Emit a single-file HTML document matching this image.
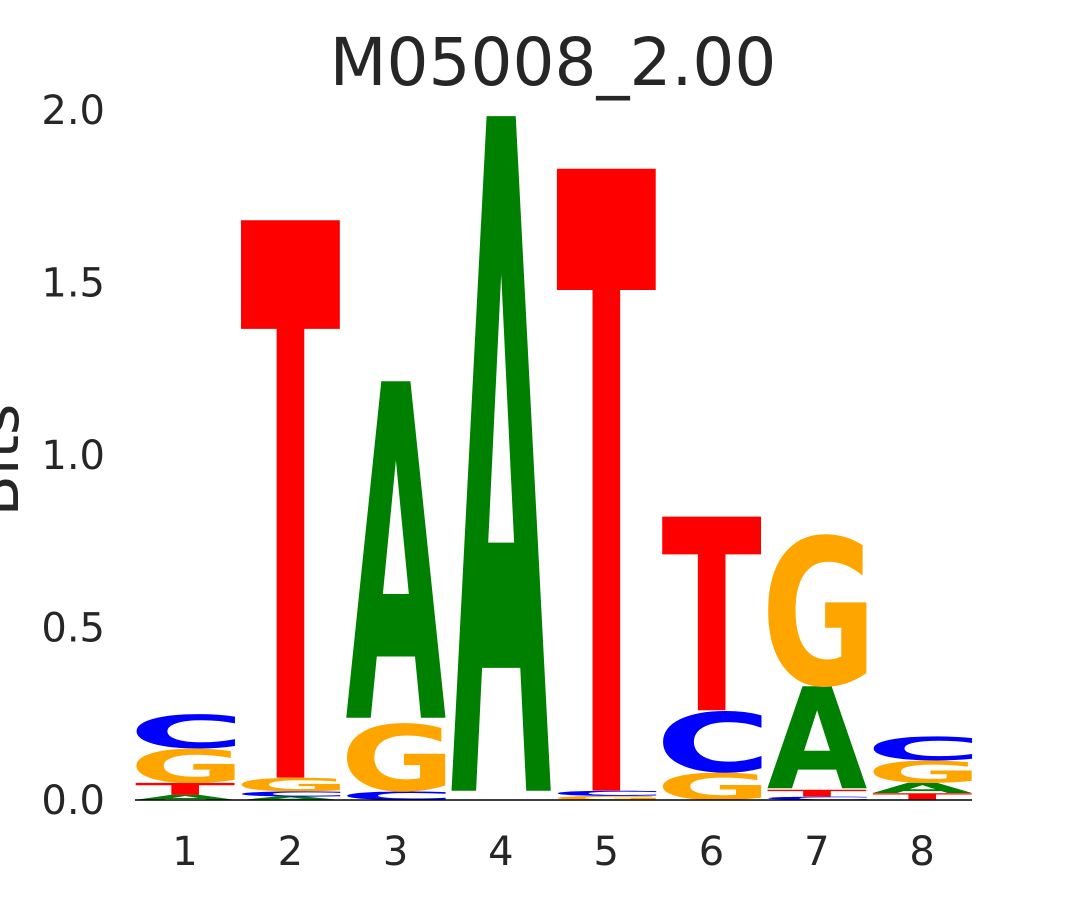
<!DOCTYPE html>
<html><head><meta charset="utf-8"><style>
html,body{margin:0;background:#fff;overflow:hidden;width:1080px;height:900px;}
svg{display:block;font-family:"DejaVu Sans","Liberation Sans",sans-serif;overflow:hidden;}
</style></head><body>
<svg id="chart" width="1080" height="900">
<text x="553" y="85" font-size="66" text-anchor="middle" fill="#262626">M05008_2.00</text>
<text transform="translate(18,460) rotate(-90)" font-size="60" text-anchor="middle" fill="#262626">Bits</text>
<g id="yticks"></g><g id="xticks"></g><g id="letters"></g>
<line x1="135" y1="800" x2="972" y2="800" stroke="#000" stroke-width="1.5"/>
</svg>
<script>
const positions = ["1","2","3","4","5","6","7","8"];
const yTickValues = [0, 0.5, 1.0, 1.5, 2.0];
const yTickLabels = ["0.0","0.5","1.0","1.5","2.0"];
// stacks bottom-to-top: [letter, bits]
const col1 = [["A",0.015],["T",0.035],["G",0.1],["C",0.1]];
const col2 = [["A",0.01],["C",0.015],["G",0.04],["T",1.64]];
const col3 = [["C",0.025],["G",0.2],["A",0.99]];
const col4 = [["A",1.985]];
const col5 = [["G",0.012],["C",0.015],["T",1.83]];
const col6 = [["G",0.08],["C",0.18],["T",0.57]];
const col7 = [["C",0.01],["T",0.02],["A",0.3],["G",0.445]];
const col8 = [["T",0.02],["A",0.03],["G",0.065],["C",0.07]];
const stacks = [col1,col2,col3,col4,col5,col6,col7,col8];
const colors = {A:"#008000",C:"#0000ff",G:"#ffa500",T:"#ff0000"};
const NS="http://www.w3.org/2000/svg";
const y = v => 800 - v*345;
const xc = i => 185 + i*105.3;
const colW = 100;
const FONT = 'bold 100px "DejaVu Sans"';
const ctx = document.createElement('canvas').getContext('2d');
ctx.font = FONT;
function ink(L){
  const m = ctx.measureText(L);
  return {l:-m.actualBoundingBoxLeft, r:m.actualBoundingBoxRight, a:m.actualBoundingBoxAscent, d:m.actualBoundingBoxDescent};
}
const yt=document.getElementById('yticks');
yTickValues.forEach((v,i)=>{
  const t=document.createElementNS(NS,'text');
  t.setAttribute('x',105);t.setAttribute('y',y(v)+14);
  t.setAttribute('font-size',40);t.setAttribute('text-anchor','end');t.setAttribute('fill','#262626');
  t.textContent=yTickLabels[i];
  
  
  yt.appendChild(t);
});
const xt=document.getElementById('xticks');
positions.forEach((p,i)=>{
  const t=document.createElementNS(NS,'text');
  t.setAttribute('x',xc(i));t.setAttribute('y',865);
  t.setAttribute('font-size',40);t.setAttribute('text-anchor','middle');t.setAttribute('fill','#262626');
  t.textContent=p;
  
  
  xt.appendChild(t);
});
const lg=document.getElementById('letters');
stacks.forEach((st,i)=>{
  let base=0;
  st.forEach(([L,h])=>{
    const yb=y(base), yt2=y(base+h), ph=yb-yt2;
    const b=ink(L);
    const iw=(b.r-b.l)||70, ih=(b.a+b.d)||73;
    const sx=colW/iw, sy=ph/ih;
    const t=document.createElementNS(NS,'text');
    t.setAttribute('x',0);t.setAttribute('y',0);
    t.setAttribute('font-size',100);t.setAttribute('font-weight','bold');
    t.setAttribute('font-family','"DejaVu Sans", sans-serif');
    t.setAttribute('fill',colors[L]);
    const tx = xc(i)-colW/2 - b.l*sx;
    const ty = yb - b.d*sy;
    t.setAttribute('transform',`translate(${tx},${ty}) scale(${sx},${sy})`);
    t.textContent=L;
    
    
    lg.appendChild(t);
    base+=h;
  });
});
</script>
</body></html>
